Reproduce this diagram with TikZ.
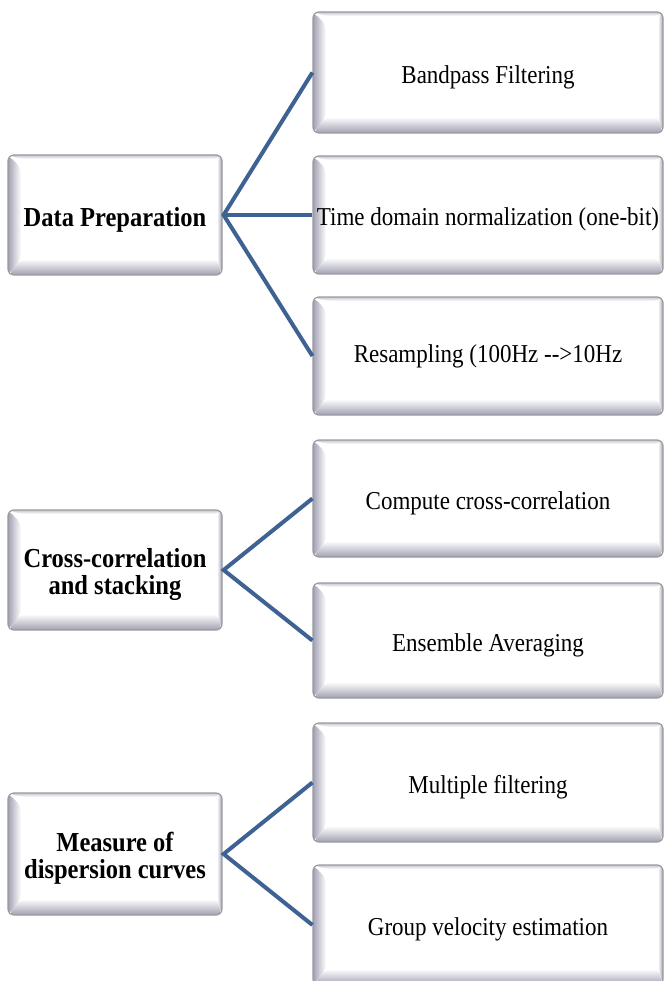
\documentclass[tikz,border=0pt]{standalone}
\usepackage{fontspec}
\setmainfont{Liberation Serif}
\definecolor{linkblue}{RGB}{62,98,145}
\definecolor{bevgray}{RGB}{160,160,178}
\definecolor{edgegray}{RGB}{155,155,160}
\newcommand{\tallt}[1]{\scalebox{1}[1.12]{#1}}
\newcommand{\lowt}[1]{\raisebox{0pt}[\dimexpr\height+9pt\relax][\depth]{\scalebox{1}[1.12]{#1}}}
\tikzset{
  bevbox/.style={rectangle, rounded corners=6pt, draw=edgegray, line width=1.2pt, fill=white,
    inner sep=0pt, align=center,
    path picture={
      \coordinate (pnw) at (path picture bounding box.north west);
      \coordinate (pne) at (path picture bounding box.north east);
      \coordinate (psw) at (path picture bounding box.south west);
      \coordinate (pse) at (path picture bounding box.south east);
      % top bevel
      \shade[top color=bevgray!60, bottom color=white]
        (pnw) -- (pne) -- ([shift={(-4pt,-4pt)}]pne) -- ([shift={(13pt,-4pt)}]pnw) -- cycle;
      % left bevel
      \shade[left color=bevgray, right color=white]
        (pnw) -- ([shift={(13pt,-13pt)}]pnw) -- ([shift={(13pt,16pt)}]psw) -- (psw) -- cycle;
      % bottom bevel
      \shade[top color=white, bottom color=bevgray]
        (psw) -- ([shift={(13pt,16pt)}]psw) -- ([shift={(-5pt,16pt)}]pse) -- (pse) -- cycle;
      % right bevel
      \shade[left color=white, right color=bevgray]
        (pne) -- ([shift={(-5pt,-5pt)}]pne) -- ([shift={(-5pt,16pt)}]pse) -- (pse) -- cycle;
    }},
  leftbox/.style={bevbox, minimum width=214pt, font=\bfseries\fontsize{24.5}{27}\selectfont},
  rightbox/.style={bevbox, minimum width=350pt, font=\fontsize{23}{26}\selectfont},
  link/.style={draw=linkblue, line width=4pt}
}
\begin{document}
\begin{tikzpicture}[x=1pt,y=-1pt]
\useasboundingbox (0,0) rectangle (667,981);
\fill[white] (0,0) rectangle (667,981);

% left boxes
\node[leftbox, minimum height=120pt] (dp) at (115,215) {\lowt{Data Preparation}};
\node[leftbox, minimum height=120pt] (cc) at (115,570) {\lowt{Cross-correlation}\\\tallt{and stacking}};
\node[leftbox, minimum height=122pt] (md) at (115,854) {\lowt{Measure of}\\\tallt{dispersion curves}};

% right boxes
\node[rightbox, minimum height=121pt] (bf) at (488,72.5) {\lowt{Bandpass Filtering}};
\node[rightbox, minimum height=118pt] (td) at (488,215) {\lowt{Time domain normalization (one-bit)}};
\node[rightbox, minimum height=118pt] (rs) at (488,356) {\tallt{Resampling (100Hz -{}->10Hz}};
\node[rightbox, minimum height=117pt] (cx) at (488,498.5) {\lowt{Compute cross-correlation}};
\node[rightbox, minimum height=115pt] (ea) at (488,640.5) {\lowt{Ensemble Averaging}};
\node[rightbox, minimum height=119pt] (mf) at (488,782.5) {\lowt{Multiple filtering}};
\node[rightbox, minimum height=120pt] (gv) at (488,925) {\lowt{Group velocity estimation}};

% connectors
\draw[link] (bf.west) -- ([xshift=1pt]dp.east) -- (rs.west);
\draw[link] ([xshift=1pt]dp.east) -- (td.west);
\draw[link] (cx.west) -- ([xshift=1pt]cc.east) -- (ea.west);
\draw[link] (mf.west) -- ([xshift=1pt]md.east) -- (gv.west);
\end{tikzpicture}
\end{document}
